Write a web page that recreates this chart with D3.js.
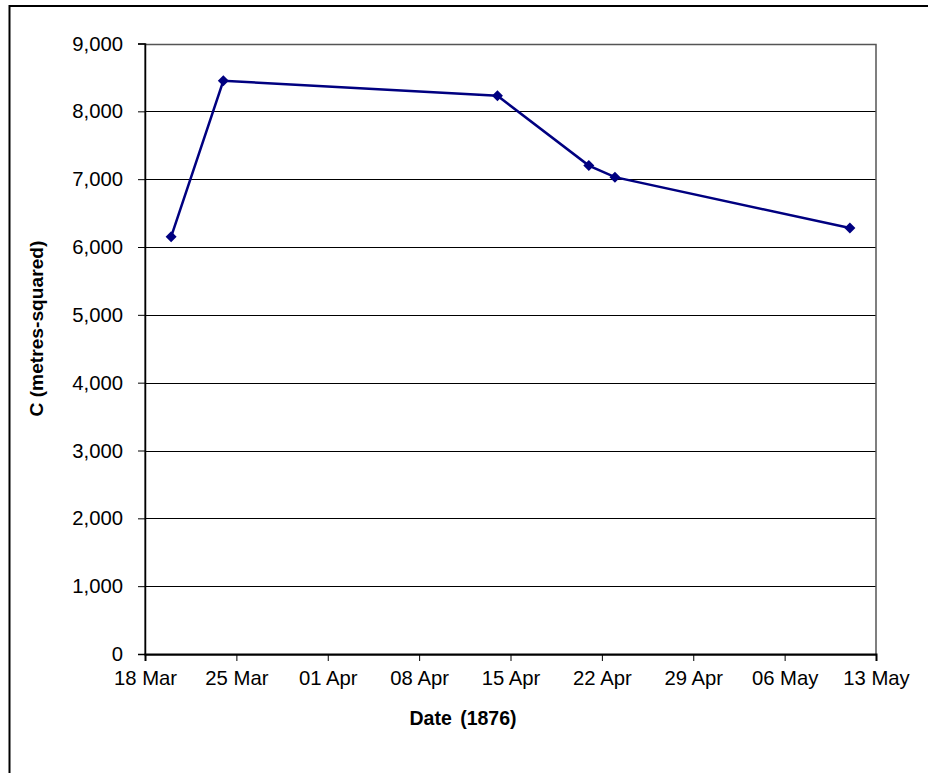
<!DOCTYPE html>
<html><head><meta charset="utf-8">
<script src="https://cdn.jsdelivr.net/npm/d3@7"></script>
<style>body{margin:0;background:#fff}svg{display:block}text{font-family:Arial,"Liberation Sans",sans-serif}</style>
</head><body>
<svg id="c" width="928" height="773"></svg>
<script>
const dates = ["1876-03-20","1876-03-24","1876-04-14","1876-04-21","1876-04-23","1876-05-11"];
const values = [6150, 8450, 8230, 7200, 7030, 6280];
const yTicks = [0,1000,2000,3000,4000,5000,6000,7000,8000,9000];
const xTickDates = ["1876-03-18","1876-03-25","1876-04-01","1876-04-08","1876-04-15","1876-04-22","1876-04-29","1876-05-06","1876-05-13"];
const xTitle = "Date (1876)";
const yTitle = "C (metres-squared)";

const parse = d3.utcParse("%Y-%m-%d");
const svg = d3.select("#c");
const L = 145, R = 876, T = 43.5, B = 654;

svg.append("rect").attr("x",9.5).attr("y",6).attr("width",940).attr("height",800)
  .attr("fill","none").attr("stroke","#000").attr("stroke-width",2);

const x = d3.scaleUtc().domain([parse(xTickDates[0]), parse(xTickDates[xTickDates.length-1])]).range([L,R]);
const y = d3.scaleLinear().domain([0,9000]).range([B,T]);

// gridlines
svg.append("g").selectAll("line").data(yTicks.slice(1)).join("line")
  .attr("x1",L).attr("x2",R).attr("y1",d=>Math.round(y(d))+0.5).attr("y2",d=>Math.round(y(d))+0.5)
  .attr("stroke","#000").attr("stroke-width",1);

// plot border
svg.append("rect").attr("x",L).attr("y",Math.round(T)+0.5).attr("width",R-L).attr("height",B-T)
  .attr("fill","none").attr("stroke","#555").attr("stroke-width",1.5);

// y axis
const yAxis = d3.axisLeft(y).tickValues(yTicks).tickSize(7).tickPadding(15).tickFormat(d3.format(","));
const gy = svg.append("g").attr("transform",`translate(${L},0)`).call(yAxis);
gy.select(".domain").attr("stroke","#000").attr("stroke-width",1.5);
gy.selectAll(".tick line").attr("stroke","#000");
gy.selectAll("text").attr("font-size","20.3px").attr("fill","#000");

// x axis
const xAxis = d3.axisBottom(x).tickValues(xTickDates.map(parse)).tickSize(7).tickPadding(10).tickFormat(d3.utcFormat("%d %b"));
const gx = svg.append("g").attr("transform",`translate(0,${B})`).call(xAxis);
gx.select(".domain").attr("stroke","#000").attr("stroke-width",2);
gx.selectAll(".tick line").attr("stroke","#000");
gx.selectAll("text").attr("font-size","20.3px").attr("fill","#000");

// titles
svg.append("text").attr("x",463).attr("y",725).attr("text-anchor","middle")
  .attr("font-size","19.5px").attr("font-weight","bold").attr("word-spacing","3px").text(xTitle);
svg.append("text").attr("transform",`translate(43,328.5) rotate(-90)`).attr("text-anchor","middle")
  .attr("font-size","19.2px").attr("font-weight","bold").text(yTitle);

// line
const pts = dates.map((d,i)=>({d:parse(d), v:values[i]}));
svg.append("path").datum(pts).attr("fill","none").attr("stroke","#000080").attr("stroke-width",2.5)
  .attr("d", d3.line().x(p=>x(p.d)).y(p=>y(p.v)));
svg.append("g").selectAll("path").data(pts).join("path")
  .attr("transform",p=>`translate(${x(p.d)},${y(p.v)})`)
  .attr("d","M0,-5.5L5.5,0L0,5.5L-5.5,0Z").attr("fill","#000080");
</script>
</body></html>
